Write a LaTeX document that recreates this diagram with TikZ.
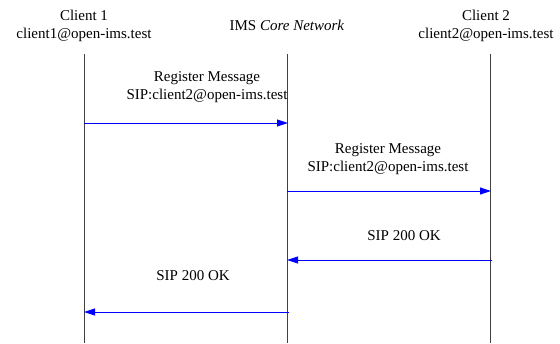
\documentclass[tikz,border=0pt]{standalone}
\usepackage{fontspec}
\setmainfont{Liberation Serif}
\usetikzlibrary{arrows.meta}
\begin{document}
\begin{tikzpicture}[x=1pt,y=-1pt,
  lbl/.style={font=\fontsize{15}{18}\selectfont, inner sep=0pt, align=center},
  lifeline/.style={draw=black!75, line width=1pt},
  msg/.style={draw=blue, line width=0.9pt, -{Triangle[length=11pt,width=7pt]}}]
  \useasboundingbox (0,0) rectangle (560,343);

  % participants
  \node[lbl] (c1) at (84,26) {Client 1\\client1@open-ims.test};
  \node[lbl] (ims) at (287,25) {IMS \textit{Core Network}};
  \node[lbl] (c2) at (486,26) {Client 2\\client2@open-ims.test};

  % lifelines
  \coordinate (c1top) at (84,54);   \coordinate (c1bot) at (84,343);
  \coordinate (imstop) at (287,54); \coordinate (imsbot) at (287,343);
  \coordinate (c2top) at (490,54);  \coordinate (c2bot) at (490,343);
  \draw[lifeline] (c1top) -- (c1bot);
  \draw[lifeline] (imstop) -- (imsbot);
  \draw[lifeline] (c2top) -- (c2bot);

  % message end points
  \coordinate (m1s) at (84,123);  \coordinate (m1e) at (288,123);
  \coordinate (m2s) at (287,191); \coordinate (m2e) at (491,191);
  \coordinate (m3s) at (492,260); \coordinate (m3e) at (287,260);
  \coordinate (m4s) at (289,312); \coordinate (m4e) at (84,312);

  % messages
  \draw[msg] (m1s) -- (m1e);
  \node[lbl] (l1) at (207,87) {Register Message\\SIP:client2@open-ims.test};
  \draw[msg] (m2s) -- (m2e);
  \node[lbl] (l2) at (388,159) {Register Message\\SIP:client2@open-ims.test};
  \draw[msg] (m3s) -- (m3e);
  \node[lbl] (l3) at (404,236) {SIP 200 OK};
  \draw[msg] (m4s) -- (m4e);
  \node[lbl] (l4) at (193,276) {SIP 200 OK};
\end{tikzpicture}
\end{document}
